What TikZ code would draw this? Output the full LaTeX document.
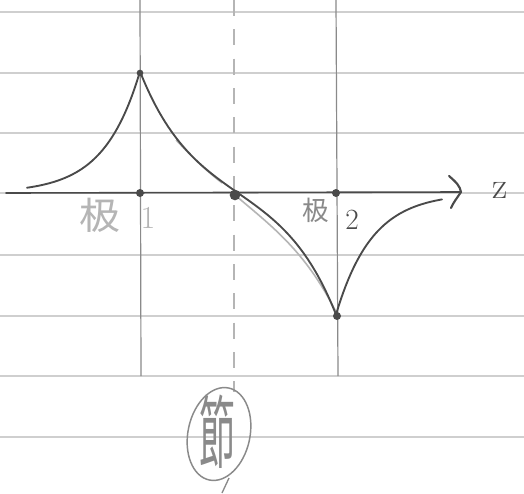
\documentclass[tikz,border=0pt]{standalone}
\usepackage{fontspec}
\newfontfamily\cjk{Noto Sans CJK JP}
\usetikzlibrary{shapes.geometric}
\definecolor{rule}{HTML}{CFCFCF}
\definecolor{ink}{HTML}{4A4A4A}
\definecolor{pencil}{HTML}{8A8A8A}
\definecolor{faint}{HTML}{B5B5B5}
\tikzset{
  ruled/.style={rule, line width=1.1pt},
  guide/.style={pencil, line width=0.9pt},
  curve/.style={ink, line width=1.4pt, line join=round, line cap=round},
  dot/.style={circle, fill=ink, inner sep=0pt, minimum size=#1},
  lbl/.style={text=faint, inner sep=0pt},
}
\begin{document}
\begin{tikzpicture}[x=0.75pt,y=-0.75pt]
\useasboundingbox (0,0) rectangle (524,493);
\fill[white] (0,0) rectangle (524,493);
% ruled paper
\foreach \yy in {12,73,133,193,255,316,376,437}
  \draw[ruled] (0,\yy) -- (524,\yy);
% guide verticals
\coordinate (v1t) at (140,0); \coordinate (v1b) at (141,376);
\coordinate (v2t) at (336,0); \coordinate (v2b) at (338,376);
\draw[guide] (v1t) -- (v1b);
\draw[guide] (v2t) -- (v2b);
\coordinate (dt) at (234,0); \coordinate (db) at (234,392);
\draw[guide, faint, line width=1pt, dash pattern=on 12pt off 10pt] (dt) -- (db);
% axis
\coordinate (ax0) at (6,193); \coordinate (tip) at (461,192);
\draw[curve, line width=1.2pt] (ax0) -- (tip);
\draw[curve, line width=1.6pt] (449,176) .. controls (456,182) and (460,186) .. (tip) .. controls (457,198) and (453,203) .. (451,208);
\node[text=ink, font=\fontsize{28}{28}\selectfont, anchor=center] (zl) at (500,190) {z};
% faint pencil stroke
\draw[faint, line width=1.2pt] (235,195) .. controls (270,225) and (305,250) .. (336,312);
\draw[faint, line width=1pt] (176,140) .. controls (190,155) and (205,170) .. (222,183);
% main curve
\draw[curve] plot[domain=27:140, samples=60] (\x, {193 - 121.6*exp(-(140-\x)/36)})
  -- plot[domain=140:336, samples=120] (\x, {193 - 124*(exp(-abs(\x-140)/50) - exp(-abs(\x-336)/50))})
  -- plot[domain=336:442, samples=60] (\x, {193 + 121.6*exp(-(\x-336)/36)});
% dots
\node[dot=6pt] (p1) at (140,193) {};
\node[dot=6pt] (p2) at (336,193) {};
\node[dot=8pt] (nd) at (235,195) {};
\node[dot=5pt] (pk) at (140,73) {};
\node[dot=6pt] (tr) at (337,316) {};
% labels
\node[lbl, font=\cjk\fontsize{28}{28}\selectfont] (j1) at (100,215) {\scalebox{1.1}[1]{极}};
\node[lbl, font=\fontsize{24}{24}\selectfont] (n1) at (148,218) {1};
\node[lbl, text=pencil, font=\cjk\fontsize{20}{20}\selectfont] (j2) at (316,210) {极};
\node[lbl, text=ink, font=\fontsize{22}{22}\selectfont] (n2) at (352,220) {2};
% node label
\draw[pencil, line width=1.1pt, rotate around={-12:(219,434)}] (219,434) ellipse [x radius=31, y radius=47];
\node[lbl, text=pencil, font=\cjk\fontsize{30}{30}\selectfont] (jie) at (217,432) {\scalebox{0.9}[2.0]{節}};
\coordinate (tail0) at (229,478); \coordinate (tail1) at (222,493);
\draw[pencil, line width=1pt] (tail0) -- (tail1);
\end{tikzpicture}
\end{document}
